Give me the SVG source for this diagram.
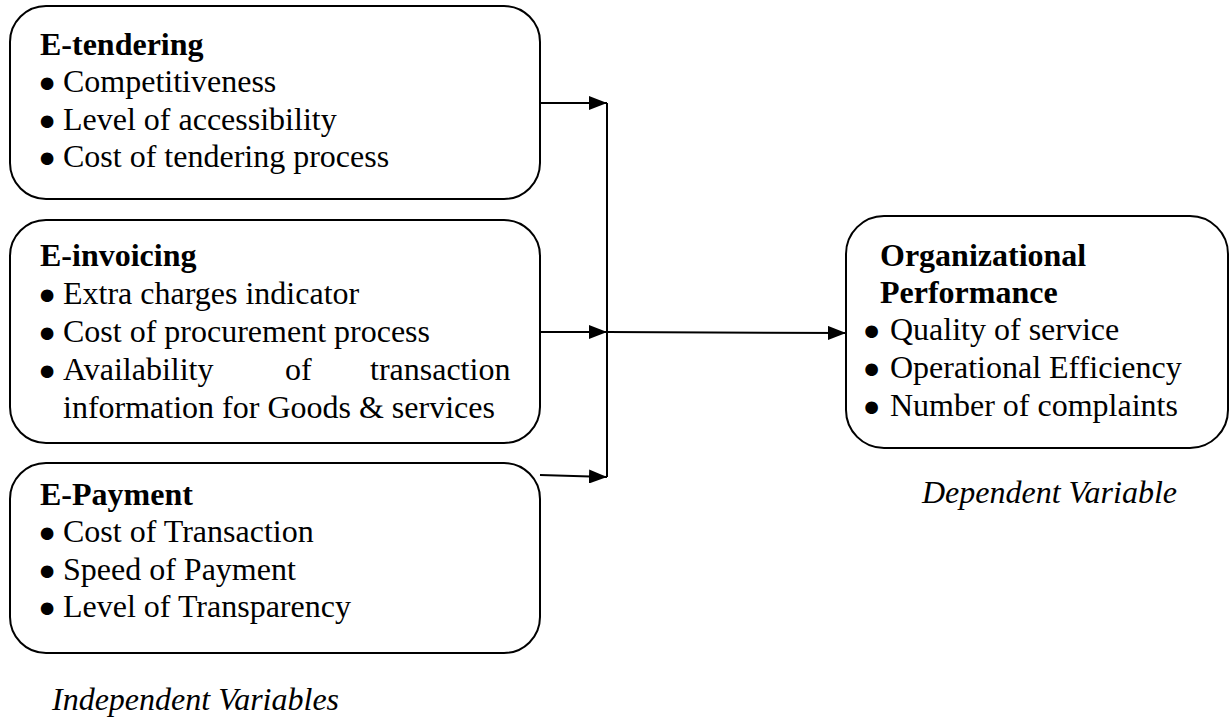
<svg xmlns="http://www.w3.org/2000/svg" width="1230" height="721" viewBox="0 0 1230 721">
<defs>
<style>
.box{fill:#fff;stroke:#000;stroke-width:2}
text{font-family:"Liberation Serif","Times New Roman",serif;font-size:32px;fill:#000}
.t{font-weight:bold}
.i{font-style:italic}
.b{stroke:#000;stroke-width:5;stroke-linejoin:round}
.ln{stroke:#000;stroke-width:2;fill:none}
</style>
<marker id="ah" markerUnits="userSpaceOnUse" markerWidth="20" markerHeight="14" refX="18" refY="7" orient="auto">
<path d="M0,0 L18,7 L0,14 Z" fill="#000"/>
</marker>
</defs>
<rect width="1230" height="721" fill="#fff"/>
<g id="connectors">
<line class="ln" x1="607" y1="103" x2="607" y2="477"/>
<line class="ln" x1="540" y1="103" x2="607" y2="103" marker-end="url(#ah)"/>
<line class="ln" x1="540" y1="332" x2="607" y2="332" marker-end="url(#ah)"/>
<line class="ln" x1="540" y1="475" x2="607" y2="477" marker-end="url(#ah)"/>
<line class="ln" x1="607" y1="332" x2="846" y2="333" marker-end="url(#ah)"/>
</g>
<g id="e-tendering">
<rect class="box" x="10" y="6" width="530" height="193" rx="36"/>
<text class="t" x="40" y="55">E-tendering</text>
<text x="41.5" y="92"><tspan class="b" dy="3">•</tspan><tspan x="63" dy="-3">Competitiveness</tspan></text>
<text x="41.5" y="130"><tspan class="b" dy="3">•</tspan><tspan x="63" dy="-3">Level of accessibility</tspan></text>
<text x="41.5" y="167"><tspan class="b" dy="3">•</tspan><tspan x="63" dy="-3">Cost of tendering process</tspan></text>
</g>
<g id="e-invoicing">
<rect class="box" x="10" y="220" width="530" height="223" rx="36"/>
<text class="t" x="40" y="266">E-invoicing</text>
<text x="41.5" y="304"><tspan class="b" dy="3">•</tspan><tspan x="63" dy="-3">Extra charges indicator</tspan></text>
<text x="41.5" y="342"><tspan class="b" dy="3">•</tspan><tspan x="63" dy="-3">Cost of procurement process</tspan></text>
<text x="41.5" y="380"><tspan class="b" dy="3">•</tspan><tspan x="63" dy="-3">Availability</tspan><tspan x="285">of</tspan><tspan x="370">transaction</tspan></text>
<text x="63" y="418">information for Goods &amp; services</text>
</g>
<g id="e-payment">
<rect class="box" x="10" y="463" width="530" height="190" rx="36"/>
<text class="t" x="40" y="505">E-Payment</text>
<text x="41.5" y="542"><tspan class="b" dy="3">•</tspan><tspan x="63" dy="-3">Cost of Transaction</tspan></text>
<text x="41.5" y="580"><tspan class="b" dy="3">•</tspan><tspan x="63" dy="-3">Speed of Payment</tspan></text>
<text x="41.5" y="617"><tspan class="b" dy="3">•</tspan><tspan x="63" dy="-3">Level of Transparency</tspan></text>
</g>
<g id="independent-label">
<text class="i" x="52" y="710">Independent Variables</text>
</g>
<g id="organizational-performance">
<rect class="box" x="846" y="216" width="382" height="232" rx="38"/>
<text class="t" x="880" y="266">Organizational</text>
<text class="t" x="880" y="303">Performance</text>
<text x="866" y="340"><tspan class="b" dy="3">•</tspan><tspan x="890" dy="-3">Quality of service</tspan></text>
<text x="866" y="378"><tspan class="b" dy="3">•</tspan><tspan x="890" dy="-3">Operational Efficiency</tspan></text>
<text x="866" y="416"><tspan class="b" dy="3">•</tspan><tspan x="890" dy="-3">Number of complaints</tspan></text>
</g>
<g id="dependent-label">
<text class="i" x="922" y="503">Dependent Variable</text>
</g>
</svg>
